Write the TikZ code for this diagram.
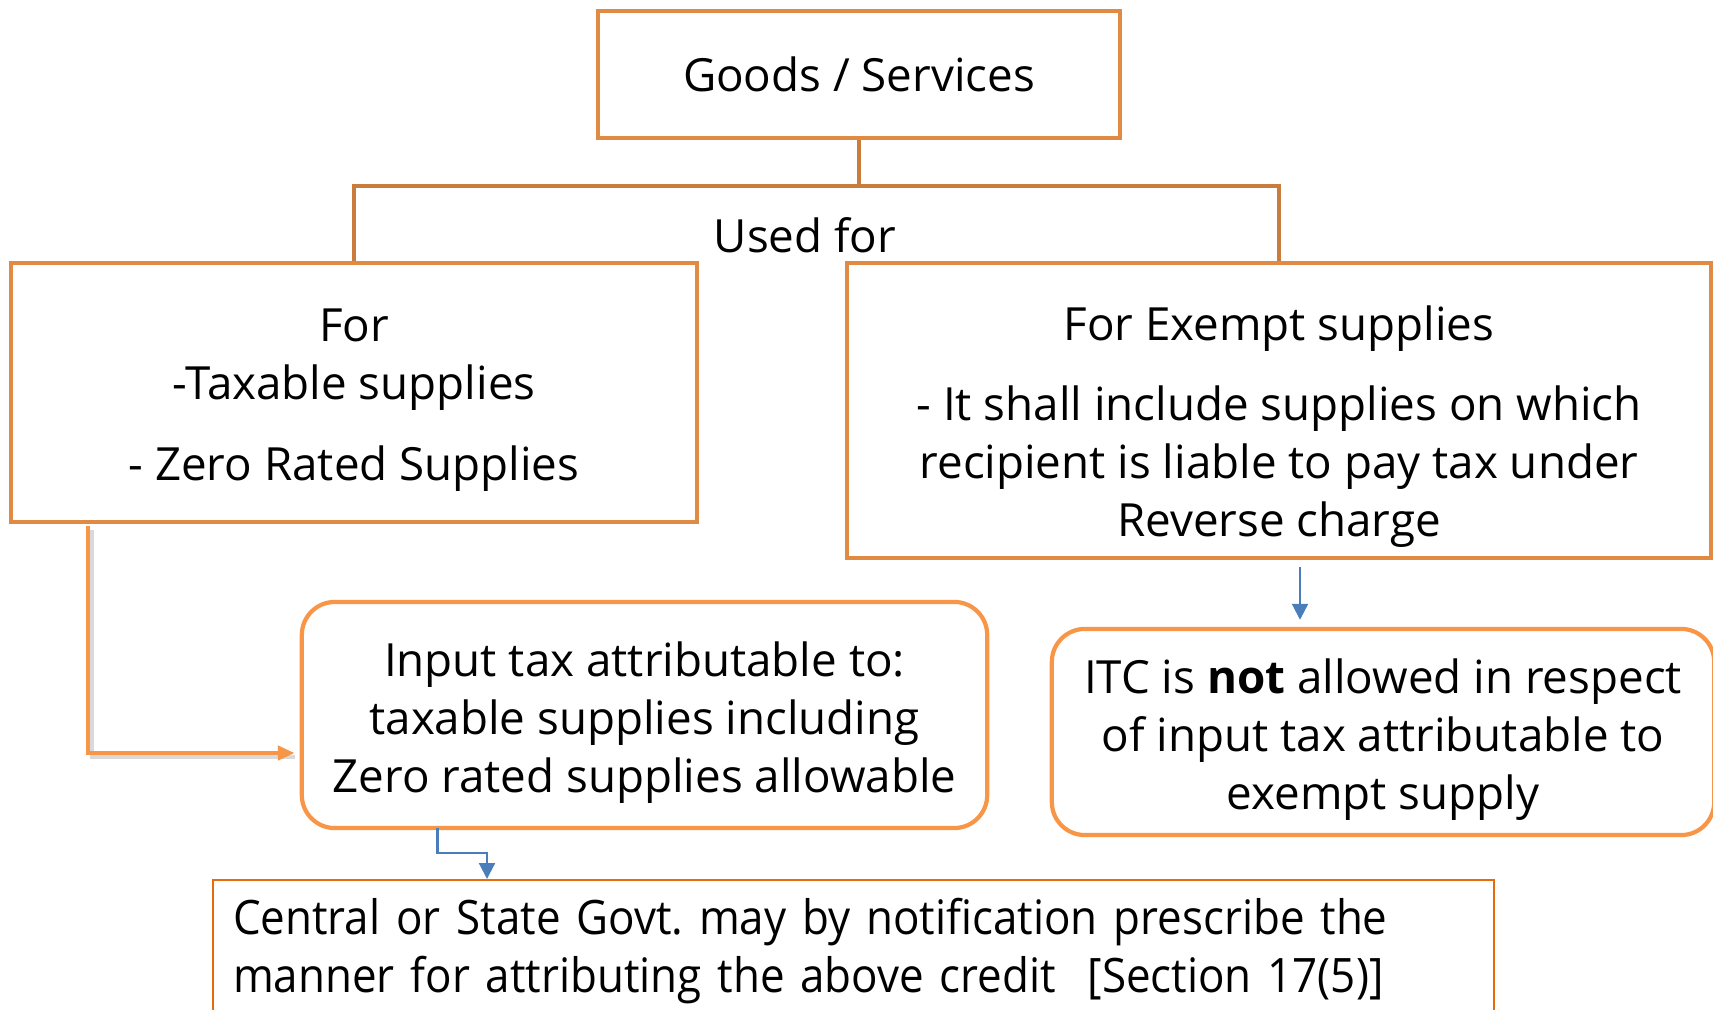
\documentclass[tikz,border=0pt]{standalone}
\usepackage{fontspec}
\setmainfont{Open Sans}
\newfontfamily\narrowfont[FakeStretch=0.925]{Open Sans}
\usetikzlibrary{positioning, calc, arrows.meta}
\definecolor{boxorange}{HTML}{E08A43}
\definecolor{softorange}{HTML}{F79646}
\definecolor{lineorange}{HTML}{E46C0A}
\definecolor{flowblue}{HTML}{4A7EBB}
\tikzset{
	sharpbox/.style={draw=boxorange, line width=1.2pt, align=center, inner sep=0pt}
}
\tikzset{
	roundbox/.style={draw=softorange, line width=1.2pt, rounded corners=0.33cm, align=center, inner sep=0pt}
}
\tikzset{
	govtbox/.style={draw=lineorange, line width=0.6pt, align=left, text width=12.4cm, inner xsep=0.2cm, inner ysep=0.18cm, font=\narrowfont\fontsize{13.5pt}{16.5pt}\selectfont\frenchspacing}
}
\tikzset{
	treeline/.style={draw=boxorange!90!black, line width=1.2pt}
}
\tikzset{
	blueflow/.style={draw=flowblue, line width=0.6pt, -{Triangle[length=4.5pt, width=4.5pt]}}
}
\tikzset{
	orangeflow/.style={draw=softorange, line width=1.2pt, -{Triangle[length=4.8pt, width=4pt]}}
}
\begin{document}
\begin{tikzpicture}[x=0.01cm, y=-0.01cm, font=\fontsize{13pt}{16.5pt}\selectfont]
      \useasboundingbox (0,0) rectangle (1713,1010);
      % top of the tree
      \node[sharpbox, minimum width=5.22cm, minimum height=1.27cm] (goods) at (859,74.5) {Goods / Services};
      \coordinate (split) at (859,186);
      \node (usedfor) at (805,235) {Used for};
      % the two uses
      \node[sharpbox, minimum width=6.86cm, minimum height=2.59cm, text height=53.2pt] (taxable) at (354,392.5)
        {For\\ -Taxable supplies\\[6.5pt] - Zero Rated Supplies};
      \node[sharpbox, minimum width=8.64cm, minimum height=2.95cm, text height=75pt] (exempt) at (1279,410.5)
        {For Exempt supplies\\[6.3pt] - It shall include supplies on which\\ recipient is liable to pay tax under\\ Reverse charge};
      \draw[treeline] (goods) -- (split);
      \draw[treeline] (taxable.north) |- (split) -| (exempt.north);
      % what follows
      \node[roundbox, minimum width=6.85cm, minimum height=2.26cm, text height=47.3pt] (input) at (644.5,715)
        {Input tax attributable to:\\ taxable supplies including\\ Zero rated supplies allowable};
      \node[roundbox, minimum width=6.62cm, minimum height=2.06cm, text height=47.3pt] (itc) at (1383,732)
        {ITC is \textbf{not} allowed in respect\\ of input tax attributable to\\ exempt supply};
      \node[govtbox, anchor=north west] (govt) at (212,879)
        {Central or State Govt. may by notification prescribe the\\ manner for attributing the above credit~~[Section 17(5)]};
      % connectors
      \coordinate (taxout) at ($(taxable.south west)+(79,2)$);
      \coordinate (inputin) at ($(input.west)+(-5,38)$);
      \draw[line width=1.2pt, black!25, opacity=0.6] ($(taxout)+(4,4)$) |- ($(inputin)+(0,4)$);
      \draw[orangeflow] (taxout) |- (inputin);
      \coordinate (exemptout) at ($(exempt.south)+(21,7)$);
      \draw[blueflow, shorten >=2pt] (exemptout) -- (exemptout |- itc.north);
      \coordinate (inputout) at ($(input.south)+(-207,-2)$);
      \draw[blueflow] (inputout) -- ++(0,25) -| ($(govt.north west)+(275,0)$);
    \end{tikzpicture}
\end{document}
